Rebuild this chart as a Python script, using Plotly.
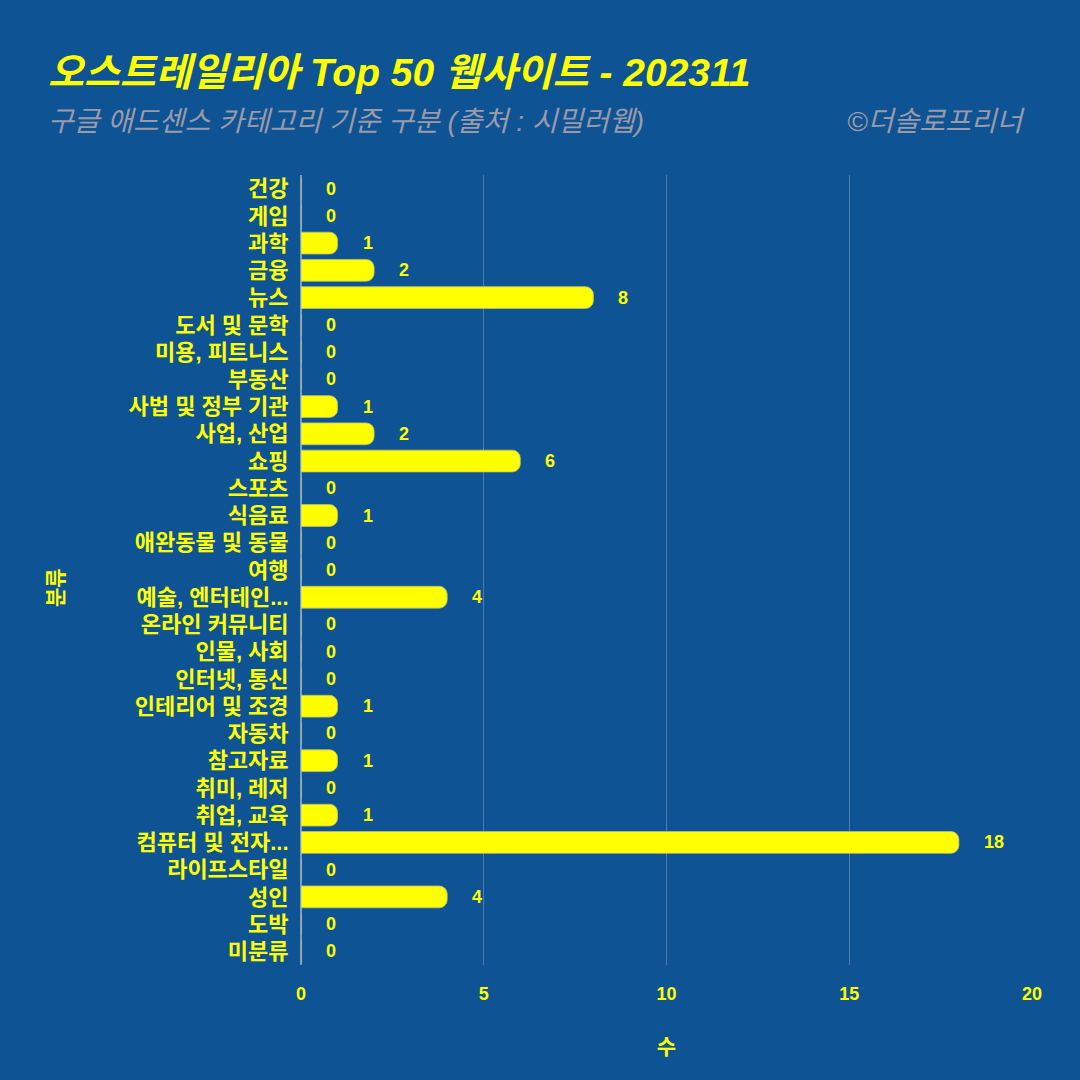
import plotly.graph_objects as go

categories = ["건강", "게임", "과학", "금융", "뉴스", "도서 및 문학", "미용, 피트니스", "부동산",
              "사법 및 정부 기관", "사업, 산업", "쇼핑", "스포츠", "식음료", "애완동물 및 동물", "여행",
              "예술, 엔터테인...", "온라인 커뮤니티", "인물, 사회", "인터넷, 통신", "인테리어 및 조경",
              "자동차", "참고자료", "취미, 레저", "취업, 교육", "컴퓨터 및 전자...", "라이프스타일",
              "성인", "도박", "미분류"]
counts = [0, 0, 1, 2, 8, 0, 0, 0, 1, 2, 6, 0, 1, 0, 0, 4, 0, 0, 0, 1, 0, 1, 0, 1, 18, 0, 4, 0, 0]
x_ticks = [0, 5, 10, 15, 20]

BG = "rgb(14,83,148)"
YEL = "#FFFF00"
GRAY = "#9a9aa8"
FONT = "Liberation Sans, Noto Sans CJK KR"

L, R, T, B = 301, 48, 175, 115
pw, ph = 1080 - L - R, 1080 - T - B


def px_to_paper(px, py):
    return (px - L) / pw, 1 - (py - T) / ph


fig = go.Figure()
fig.add_trace(go.Bar(
    x=counts, y=categories, orientation="h",
    marker=dict(color=YEL, line=dict(color="rgba(190,190,120,0.8)", width=1)),
    width=0.8,
    hoverinfo="x+y",
))

annotations = []
for c, v in zip(categories, counts):
    annotations.append(dict(x=v, y=c, xref="x", yref="y", text=f"<b>{v}</b>",
                            showarrow=False, xanchor="left", xshift=23,
                            font=dict(family=FONT, size=18, color=YEL)))

x0, y0 = px_to_paper(46, 73)
annotations.append(dict(x=x0, y=y0, xref="paper", yref="paper", xanchor="left", yanchor="middle",
                        text="<b><i>오스트레일리아 Top 50 웹사이트 - 202311</i></b>",
                        showarrow=False, font=dict(family=FONT, size=39, color=YEL)))
x0, y0 = px_to_paper(46, 121)
annotations.append(dict(x=x0, y=y0, xref="paper", yref="paper", xanchor="left", yanchor="middle",
                        text="<i>구글 애드센스 카테고리 기준 구분 (출처 : 시밀러웹)</i>",
                        showarrow=False, font=dict(family=FONT, size=28, color=GRAY)))
x0, y0 = px_to_paper(1027, 121)
annotations.append(dict(x=x0, y=y0, xref="paper", yref="paper", xanchor="right", yanchor="middle",
                        text="<i>©더솔로프리너</i>",
                        showarrow=False, font=dict(family=FONT, size=28, color=GRAY)))
x0, y0 = px_to_paper(55, 587)
annotations.append(dict(x=x0, y=y0, xref="paper", yref="paper", xanchor="center", yanchor="middle",
                        text="<b>분류</b>", textangle=-90,
                        showarrow=False, font=dict(family=FONT, size=21, color=YEL)))

fig.update_layout(
    width=1080, height=1080,
    paper_bgcolor=BG, plot_bgcolor=BG,
    margin=dict(l=L, r=R, t=T, b=B),
    barcornerradius=8,
    showlegend=False,
    annotations=annotations,
    font=dict(family=FONT, color=YEL),
    xaxis=dict(range=[0, 20], tickvals=x_ticks, showgrid=True,
               gridcolor="rgba(200,200,220,0.35)", gridwidth=1,
               zeroline=True, zerolinecolor="rgba(170,190,220,0.7)", zerolinewidth=2,
               tickfont=dict(family=FONT, size=18, color=YEL, weight="bold"),
               ticks="outside", ticklen=12, tickcolor=BG,
               title=dict(text="<b>수</b>", font=dict(family=FONT, size=21, color=YEL), standoff=36),
               fixedrange=True),
    yaxis=dict(categoryorder="array", categoryarray=categories, autorange="reversed",
               tickmode="array", tickvals=categories, ticktext=categories,
               showgrid=False, ticks="outside", ticklen=7, tickcolor=BG,
               tickfont=dict(family=FONT, size=22, color=YEL, weight="bold"),
               fixedrange=True),
)

fig.write_html("out.html")
